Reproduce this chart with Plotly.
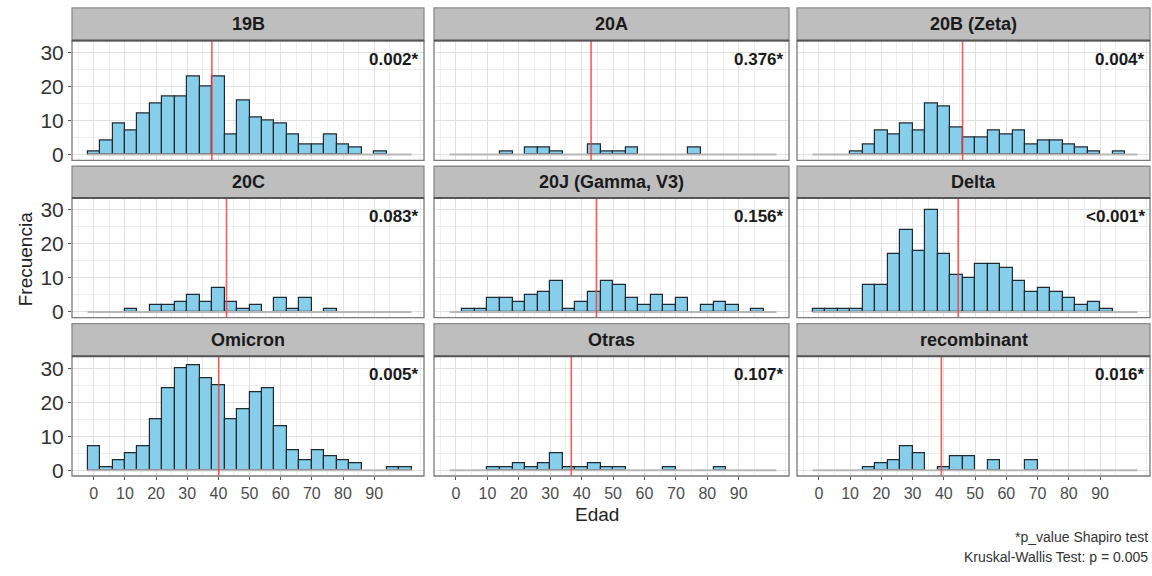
import plotly.graph_objects as go

# ---------------- data ----------------
variants = ["19B", "20A", "20B (Zeta)", "20C", "20J (Gamma, V3)", "Delta",
            "Omicron", "Otras", "recombinant"]
bin_width = 4
bin_centers = [0, 4, 8, 12, 16, 20, 24, 28, 32, 36, 40, 44, 48, 52, 56, 60,
               64, 68, 72, 76, 80, 84, 88, 92, 96, 100]

counts_19B = [1, 4, 9, 7, 12, 15, 17, 17, 23, 20, 23, 6, 16, 11, 10, 9, 6, 3, 3, 6, 3, 2, 0, 1, 0, 0]
counts_20A = [0, 0, 0, 0, 1, 0, 2, 2, 1, 0, 0, 3, 1, 1, 2, 0, 0, 0, 0, 2, 0, 0, 0, 0, 0, 0]
counts_20B = [0, 0, 0, 1, 3, 7, 6, 9, 7, 15, 14, 8, 5, 5, 7, 6, 7, 3, 4, 4, 3, 2, 1, 0, 1, 0]
counts_20C = [0, 0, 0, 1, 0, 2, 2, 3, 5, 3, 7, 3, 1, 2, 0, 4, 1, 4, 0, 1, 0, 0, 0, 0, 0, 0]
counts_20J = [0, 1, 1, 4, 4, 3, 5, 6, 9, 1, 3, 6, 9, 8, 4, 2, 5, 2, 4, 0, 2, 3, 2, 0, 1, 0]
counts_Delta = [1, 1, 1, 1, 8, 8, 17, 24, 18, 30, 17, 11, 10, 14, 14, 13, 9, 6, 7, 6, 4, 2, 3, 1, 0, 0]
counts_Omicron = [7, 1, 3, 5, 7, 15, 24, 30, 31, 27, 25, 15, 18, 23, 24, 13, 6, 3, 6, 4, 3, 2, 0, 0, 1, 1]
counts_Otras = [0, 0, 0, 1, 1, 2, 1, 2, 5, 1, 1, 2, 1, 1, 0, 0, 0, 1, 0, 0, 0, 1, 0, 0, 0, 0]
counts_recomb = [0, 0, 0, 0, 1, 2, 3, 7, 5, 0, 1, 4, 4, 0, 3, 0, 0, 3, 0, 0, 0, 0, 0, 0, 0, 0]
all_counts = [counts_19B, counts_20A, counts_20B, counts_20C, counts_20J,
              counts_Delta, counts_Omicron, counts_Otras, counts_recomb]

mean_age = [37.9, 43.0, 46.0, 42.6, 44.7, 44.6, 40.1, 36.7, 39.2]
p_labels = ["0.002*", "0.376*", "0.004*", "0.083*", "0.156*", "<0.001*",
            "0.005*", "0.107*", "0.016*"]
x_ticks = [0, 10, 20, 30, 40, 50, 60, 70, 80, 90]
y_ticks = [0, 10, 20, 30]
caption_lines = ["*p_value Shapiro test", "Kruskal-Wallis Test: p = 0.005"]

# ---------------- layout geometry (pixels) ----------------
W, H = 1152, 576
col_x = [(72, 424), (434, 789), (797, 1150)]
row_plot = [(41, 162), (200, 321), (360, 481)]
row_strip_top = [8, 168, 327]
FONT = "Liberation Sans, Arial, sans-serif"

fig = go.Figure()
layout = dict(
    width=W, height=H, margin=dict(l=0, r=0, t=0, b=0),
    paper_bgcolor="white", plot_bgcolor="white", showlegend=False,
    bargap=0, font=dict(family=FONT),
)
shapes, annotations = [], []

edges_lo = bin_centers[0] - bin_width / 2
edges_hi = bin_centers[-1] + bin_width / 2

for k, name in enumerate(variants):
    r, c = divmod(k, 3)
    x0, x1 = col_x[c]
    ytop, ybot = row_plot[r]
    sfx = "" if k == 0 else str(k + 1)
    xa, ya = "x" + sfx, "y" + sfx

    layout["xaxis" + sfx] = dict(
        domain=[x0 / W, x1 / W], anchor=ya, range=[-7, 106],
        tickvals=x_ticks, showticklabels=(r == 2),
        ticks="outside" if r == 2 else "", ticklen=3, tickcolor="#555",
        tickfont=dict(size=16, color="#4d4d4d", family=FONT),
        showgrid=True, gridcolor="#E0E0E0", gridwidth=1, zeroline=False,
        minor=dict(tick0=5, dtick=10, showgrid=True, gridcolor="#EEEEEE", gridwidth=0.8),
        showline=False, fixedrange=True,
    )
    layout["yaxis" + sfx] = dict(
        domain=[1 - ybot / H, 1 - ytop / H], anchor=xa, range=[-1.7, 33.5],
        tickvals=y_ticks, showticklabels=(c == 0),
        ticks="outside" if c == 0 else "", ticklen=3, tickcolor="#555",
        tickfont=dict(size=21, color="#333333", family=FONT),
        showgrid=True, gridcolor="#E0E0E0", gridwidth=1, zeroline=False,
        minor=dict(tick0=5, dtick=10, showgrid=True, gridcolor="#EEEEEE", gridwidth=0.8),
        showline=False, fixedrange=True,
    )

    # baseline of empty bins
    fig.add_trace(go.Scatter(
        x=[edges_lo, edges_hi], y=[0, 0], mode="lines",
        line=dict(color="#B8B8B8", width=2), xaxis=xa, yaxis=ya, hoverinfo="skip"))

    cts = all_counts[k]
    xs = [bc for bc, v in zip(bin_centers, cts) if v > 0]
    ys = [v for v in cts if v > 0]
    fig.add_trace(go.Bar(
        x=xs, y=ys, width=bin_width, xaxis=xa, yaxis=ya,
        marker=dict(color="#87CEEB", line=dict(color="#1f2a30", width=1.2))))

    # mean line
    shapes.append(dict(type="line", xref=xa, yref=ya + " domain",
                       x0=mean_age[k], x1=mean_age[k], y0=0, y1=1,
                       line=dict(color="rgba(255,60,60,0.85)", width=1.6)))
    # panel border
    shapes.append(dict(type="rect", xref="paper", yref="paper",
                       x0=x0 / W, x1=x1 / W, y0=1 - ybot / H, y1=1 - ytop / H,
                       line=dict(color="#7a7a7a", width=1.3), fillcolor="rgba(0,0,0,0)"))
    # strip
    stop = row_strip_top[r]
    shapes.append(dict(type="rect", xref="paper", yref="paper",
                       x0=x0 / W, x1=x1 / W, y0=1 - ytop / H, y1=1 - stop / H,
                       line=dict(color="#8a8a8a", width=1.3), fillcolor="#BEBEBE"))
    shapes.append(dict(type="line", xref="paper", yref="paper",
                       x0=x0 / W, x1=x1 / W, y0=1 - ytop / H, y1=1 - ytop / H,
                       line=dict(color="#555555", width=2)))
    annotations.append(dict(
        text="<b>%s</b>" % name, xref="paper", yref="paper",
        x=(x0 + x1) / 2 / W, y=1 - (stop + ytop) / 2 / H,
        xanchor="center", yanchor="middle", showarrow=False,
        font=dict(size=18, color="#1a1a1a", family=FONT)))
    # p-value
    annotations.append(dict(
        text="<b>%s</b>" % p_labels[k], xref=xa + " domain", yref=ya + " domain",
        x=0.992, y=0.845, xanchor="right", yanchor="middle", showarrow=False,
        font=dict(size=17, color="#1a1a1a", family=FONT)))

# axis titles
annotations.append(dict(text="Frecuencia", xref="paper", yref="paper",
                        x=25 / W, y=1 - 262 / H, textangle=-90, showarrow=False,
                        xanchor="center", yanchor="middle",
                        font=dict(size=19, color="#222", family=FONT)))
annotations.append(dict(text="Edad", xref="paper", yref="paper",
                        x=597 / W, y=1 - 520 / H, showarrow=False,
                        xanchor="center", yanchor="middle",
                        font=dict(size=19, color="#222", family=FONT)))
# caption
for i, line in enumerate(caption_lines):
    annotations.append(dict(text=line, xref="paper", yref="paper",
                            x=1150 / W, y=1 - (543 + 20 * i) / H, showarrow=False,
                            xanchor="right", yanchor="middle",
                            font=dict(size=14, color="#333", family=FONT)))

layout["shapes"] = shapes
layout["annotations"] = annotations
fig.update_layout(**layout)
fig.write_html("out.html")
